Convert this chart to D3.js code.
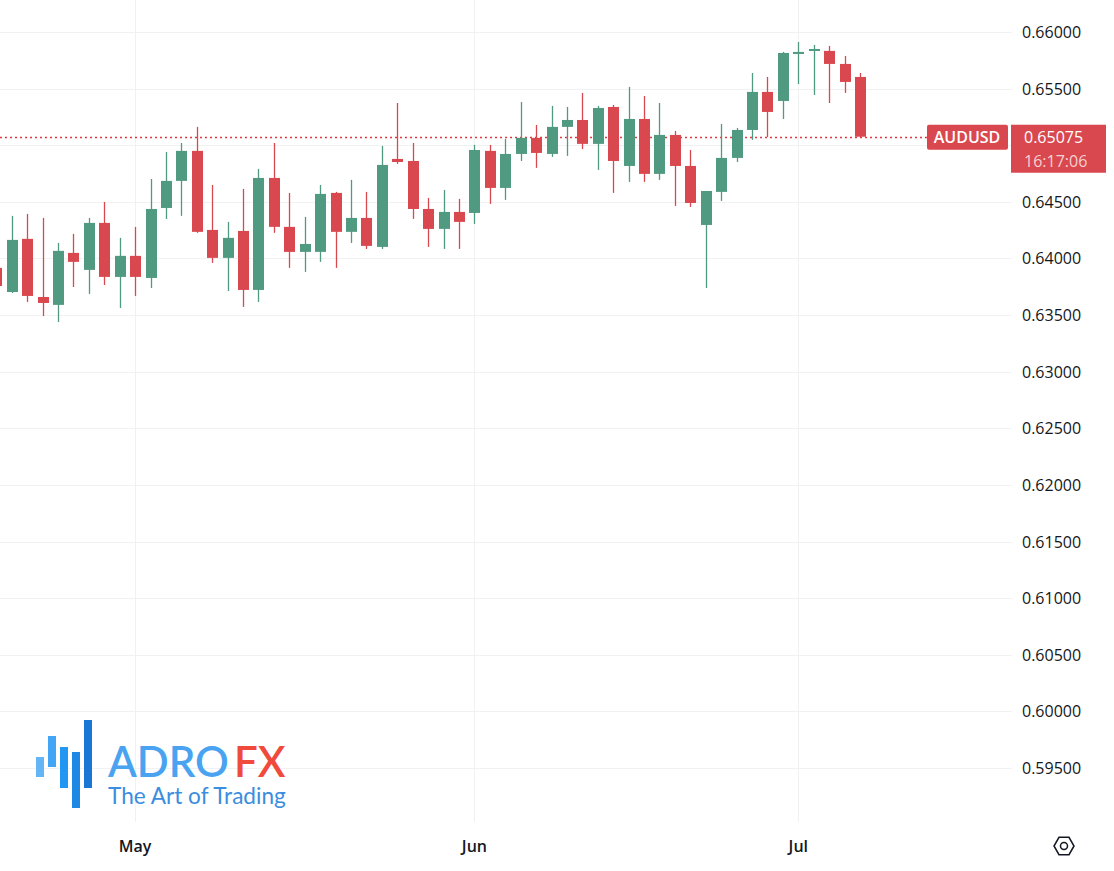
<!DOCTYPE html>
<html>
<head>
<meta charset="utf-8">
<script src="https://cdn.jsdelivr.net/npm/d3@7"></script>
<style>
  body { margin: 0; background: #fff; }
  svg { display: block; font-family: "Open Sans", "Noto Sans", sans-serif; }
</style>
</head>
<body>
<div id="board"></div>
<script>
// daily candles, [open, high, low, close]
const opens  = [.63917,.63704,.64173,.63660,.63590,.64049,.63899,.64314,.63837,.64023,.63828,.64446,.64685,.64950,.64252,.64005,.64243,.63722,.64711,.64279,.64058,.64058,.64579,.64235,.64358,.64102,.64879,.64861,.64437,.64261,.64411,.64402,.64950,.64623,.64923,.65065,.64923,.65162,.65223,.65012,.65338,.64817,.65232,.64747,.65091,.64817,.64296,.64588,.64888,.65135,.65471,.65391,.65806,.65841,.65833,.65718,.65603];
const highs  = [.63970,.64376,.64393,.64358,.64137,.64217,.64358,.64499,.64182,.64279,.64702,.64941,.65020,.65162,.64649,.64323,.64614,.64791,.65020,.64579,.64367,.64649,.64588,.64694,.64588,.64994,.65373,.65020,.64535,.64605,.64526,.65003,.65003,.65056,.65382,.65179,.65347,.65338,.65462,.65347,.65356,.65515,.65435,.65373,.65126,.64958,.64596,.65188,.65153,.65638,.65603,.65824,.65912,.65886,.65877,.65788,.65638];
const lows   = [.63722,.63695,.63616,.63492,.63439,.63748,.63687,.63766,.63563,.63669,.63739,.64349,.64376,.64226,.63961,.63713,.63572,.63616,.64226,.63917,.63881,.63970,.63917,.64137,.64084,.64084,.64835,.64349,.64102,.64084,.64084,.64305,.64482,.64517,.64861,.64800,.64897,.64906,.64967,.64782,.64579,.64676,.64676,.64694,.64464,.64455,.63739,.64508,.64852,.65047,.65073,.65232,.65541,.65444,.65373,.65462,.65073];
const closes = [.63757,.64164,.63669,.63607,.64067,.63970,.64314,.63837,.64023,.63837,.64437,.64685,.64950,.64235,.64005,.64182,.63722,.64711,.64279,.64058,.64128,.64570,.64235,.64358,.64111,.64826,.64852,.64437,.64261,.64411,.64323,.64958,.64623,.64923,.65065,.64932,.65162,.65223,.65012,.65329,.64861,.65232,.64747,.65091,.64817,.64490,.64596,.64888,.65135,.65471,.65294,.65815,.65824,.65850,.65718,.65559,.65075];

const months = ["May", "Jun", "Jul"];
const monthIndex = [9, 31, 52];
const priceTicks = [0.595, 0.600, 0.605, 0.610, 0.615, 0.620, 0.625, 0.630, 0.635, 0.640, 0.645, 0.650, 0.655, 0.660];
const symbol = "AUDUSD";
const lastPrice = 0.65075;
const countdown = "16:17:06";

const width = 1114, height = 871;
const plotRight = 1012, plotBottom = 822;
const up = "#519a82", down = "#d9484e";

const data = opens.map((o, i) => ({ i, o, h: highs[i], l: lows[i], c: closes[i] }));

const x = d3.scaleLinear().domain([0, 56]).range([-3.7, 860]);
const y = d3.scaleLinear().domain([0.595, 0.660]).range([768, 32]);
const py = y(lastPrice);

const svg = d3.create("svg").attr("width", width).attr("height", height);

// grid
svg.append("g").selectAll("line").data(priceTicks).enter().append("line")
  .attr("x1", 0).attr("x2", plotRight)
  .attr("y1", d => Math.round(y(d)) + 0.5).attr("y2", d => Math.round(y(d)) + 0.5)
  .attr("stroke", "#f0f1f3");
svg.append("g").selectAll("line").data(monthIndex).enter().append("line")
  .attr("x1", d => Math.round(x(d)) + 0.5).attr("x2", d => Math.round(x(d)) + 0.5)
  .attr("y1", 0).attr("y2", plotBottom)
  .attr("stroke", "#f0f1f3");

// logo
const logo = svg.append("g");
const logoBars = [[36, 757, 777, "#64b5f6"], [48, 736, 767, "#42a5f5"], [60, 747, 788, "#2196f3"], [72, 752, 808, "#1e88e5"], [84, 720, 788, "#1976d2"]];
logo.selectAll("rect").data(logoBars).enter().append("rect")
  .attr("x", d => d[0]).attr("y", d => d[1]).attr("width", 8).attr("height", d => d[2] - d[1])
  .attr("fill", d => d[3]);
logo.append("text").attr("x", 108).attr("y", 777).attr("font-size", 42).attr("font-weight", 600)
  .attr("fill", "#4aa3f0").attr("font-family", "Lato, sans-serif")
  .text("ADRO").append("tspan").attr("dx", 5).attr("fill", "#f04a3c").text("FX");
logo.append("text").attr("x", 108).attr("y", 804).attr("font-size", 22.6)
  .attr("fill", "#3b8de0").attr("font-family", "Lato, sans-serif").text("The Art of Trading");

// last price line
svg.append("line")
  .attr("x1", 0).attr("x2", 930)
  .attr("y1", Math.round(py) + 0.5).attr("y2", Math.round(py) + 0.5)
  .attr("stroke", "#e0393f").attr("stroke-width", 1.3).attr("stroke-dasharray", "2,3");

// candles
const candles = svg.append("g").selectAll("g").data(data).enter().append("g");
candles.append("line")
  .attr("x1", d => Math.round(x(d.i)) + 0.5).attr("x2", d => Math.round(x(d.i)) + 0.5)
  .attr("y1", d => y(d.h)).attr("y2", d => y(d.l))
  .attr("stroke", d => d.c >= d.o ? up : down).attr("stroke-width", 1.3);
candles.append("rect")
  .attr("x", d => Math.round(x(d.i)) - 5).attr("width", 11)
  .attr("y", d => y(Math.max(d.o, d.c)))
  .attr("height", d => Math.max(2, Math.abs(y(d.o) - y(d.c))))
  .attr("fill", d => d.c >= d.o ? up : down);

// right axis labels (those under the price badge are hidden)
svg.append("g").selectAll("text")
  .data(priceTicks.filter(d => Math.abs(y(d) - (py + 12)) > 30)).enter().append("text")
  .attr("x", 1022).attr("y", d => y(d) + 6)
  .attr("font-size", 16).attr("fill", "#131722")
  .text(d => d3.format(".5f")(d));

// bottom axis labels
svg.append("g").selectAll("text").data(monthIndex).enter().append("text")
  .attr("x", d => x(d)).attr("y", 852).attr("text-anchor", "middle")
  .attr("font-size", 16).attr("font-weight", 600).attr("fill", "#131722")
  .text((d, i) => months[i]);

// price badges
svg.append("rect").attr("x", 927).attr("y", py - 12).attr("width", 81).attr("height", 25).attr("rx", 2).attr("fill", down);
svg.append("text").attr("x", 967).attr("y", py + 6).attr("text-anchor", "middle")
  .attr("font-size", 16).attr("font-weight", 600).attr("fill", "#fff").text(symbol);
svg.append("rect").attr("x", 1011).attr("y", py - 12).attr("width", 95).attr("height", 48).attr("fill", down);
svg.append("text").attr("x", 1024).attr("y", py + 6).attr("font-size", 16).attr("fill", "#fff").text(d3.format(".5f")(lastPrice));
svg.append("text").attr("x", 1024).attr("y", py + 30).attr("font-size", 16).attr("fill", "#fff").attr("fill-opacity", 0.75).text(countdown);

// settings icon
const gear = svg.append("g").attr("transform", "translate(1064,846)");
const hex = d3.range(6).map(k => [10 * Math.cos(Math.PI / 3 * k), 10 * Math.sin(Math.PI / 3 * k)]);
gear.append("path").attr("d", d3.line()(hex) + "Z").attr("fill", "none").attr("stroke", "#131722").attr("stroke-width", 1.5);
gear.append("circle").attr("r", 3.5).attr("fill", "none").attr("stroke", "#131722").attr("stroke-width", 1.5);

document.getElementById("board").append(svg.node());
</script>
</body>
</html>
